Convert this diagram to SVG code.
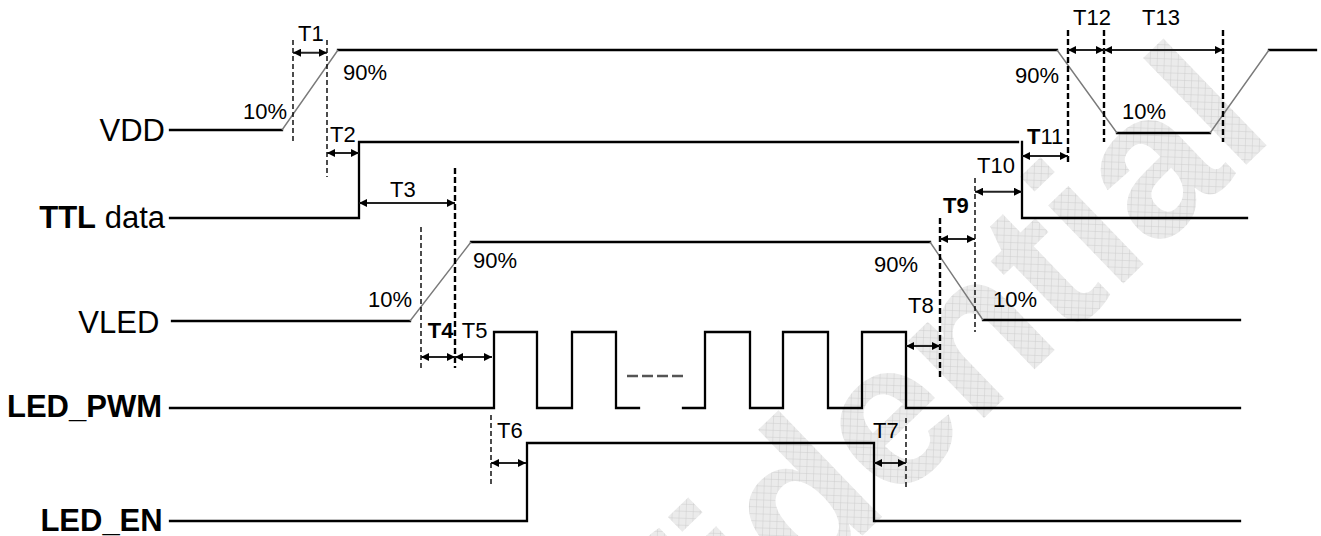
<svg xmlns="http://www.w3.org/2000/svg" width="1321" height="536" viewBox="0 0 1321 536">
<defs>
<pattern id="hatch" width="7" height="7" patternUnits="userSpaceOnUse" patternTransform="rotate(-44)">
<rect width="7" height="7" fill="#ebebeb"/>
<path d="M0,0 H7 M0,0 V7" stroke="#cdcdcd" stroke-width="1"/>
</pattern>
<marker id="ah" viewBox="0 0 10 10" refX="10" refY="5" markerWidth="9" markerHeight="8" markerUnits="userSpaceOnUse" orient="auto-start-reverse">
<path d="M0,0 L10,5 L0,10 z" fill="#000"/>
</marker>
<style>
.sig{fill:none;stroke:#000;stroke-width:2.3;stroke-linecap:square}
.ramp{fill:none;stroke:#7a7a7a;stroke-width:1.4}
.dth{fill:none;stroke:#000;stroke-width:1.4;stroke-dasharray:5 3}
.dtk{fill:none;stroke:#000;stroke-width:2.4;stroke-dasharray:6 3}
.arr{fill:none;stroke:#222;stroke-width:2;marker-start:url(#ah);marker-end:url(#ah)}
.lbl{font-family:"Liberation Sans",Arial,sans-serif;font-size:31px;fill:#000}
.t{font-family:"Liberation Sans",Arial,sans-serif;font-size:22px;fill:#000}
.b{font-weight:bold}
</style>
</defs>
<rect width="1321" height="536" fill="#fff"/>
<text transform="translate(425,958) rotate(-44)" font-family="Liberation Sans,Arial,sans-serif" font-weight="bold" font-size="205" fill="url(#hatch)">Confidential</text>

<g id="vdd">
<text class="lbl" x="165" y="140.5" text-anchor="end">VDD</text>
<path class="sig" d="M170,130 H282 M338,50 H1057 M1117,133 H1210 M1269,50 H1316"/>
<path class="ramp" d="M282,130 L338,50 M1057,50 L1117,133 M1210,133 L1269,50"/>
<text class="t" x="243" y="119">10%</text>
<text class="t" x="343" y="80">90%</text>
<text class="t" x="1015" y="83">90%</text>
<text class="t" x="1122" y="119">10%</text>
</g>

<g id="ttl">
<text class="lbl" x="165" y="228.3" text-anchor="end"><tspan class="b">TTL</tspan> data</text>
<path class="sig" d="M170,218 H359 V142 H1018 M1022,142 V218 H1247"/>
</g>

<g id="vled">
<text class="lbl" x="159.3" y="333" text-anchor="end">VLED</text>
<path class="sig" d="M172,321 H410 M471,242 H930 M983,320 H1240"/>
<path class="ramp" d="M410,321 L471,242 M930,242 L983,320"/>
<text class="t" x="368" y="307">10%</text>
<text class="t" x="473" y="268">90%</text>
<text class="t" x="874" y="271.7">90%</text>
<text class="t" x="993" y="306.7">10%</text>
</g>

<g id="led_pwm">
<text class="lbl b" x="162" y="417" text-anchor="end">LED_PWM</text>
<path class="sig" d="M170,408 H494 V332 H537 V408 H572 V332 H616 V408 H639 M683,408 H705 V332 H750 V408 H783 V332 H828 V408 H862 V332 H906 V408 H1240"/>
<path d="M627,376 H684" stroke="#555" stroke-width="2.5" stroke-dasharray="11 4" fill="none"/>
</g>

<g id="led_en">
<text class="lbl b" x="162.7" y="530.7" text-anchor="end">LED_EN</text>
<path class="sig" d="M170,521 H527 V443 H874 V521 H1240"/>
</g>

<g id="connectors">
<path class="dth" d="M293,40 V142 M327,40 V177 M421,227 V368 M491,415 V485 M906,418 V488 M975,178 V332"/>
<path class="dtk" d="M455,168 V368 M940,218 V377 M1068,30 V164 M1104,30 V142 M1223,30 V142"/>
<line class="arr" x1="293" y1="52.7" x2="327" y2="52.7"/>
<line class="arr" x1="327" y1="153" x2="359" y2="153"/>
<line class="arr" x1="359" y1="203" x2="455" y2="203"/>
<line class="arr" x1="421" y1="357" x2="455" y2="357"/>
<line class="arr" x1="455" y1="357" x2="492" y2="357"/>
<line class="arr" x1="491" y1="463" x2="526" y2="463"/>
<line class="arr" x1="874" y1="463" x2="906" y2="463"/>
<line class="arr" x1="906" y1="346" x2="940" y2="346"/>
<line class="arr" x1="940" y1="239" x2="975" y2="239"/>
<line class="arr" x1="975" y1="191.7" x2="1022" y2="191.7"/>
<line class="arr" x1="1022" y1="156" x2="1068" y2="156"/>
<line class="arr" x1="1068" y1="50" x2="1104" y2="50"/>
<line class="arr" x1="1104" y1="50" x2="1223" y2="50"/>
<text class="t" x="298" y="41">T1</text>
<text class="t" x="330" y="142">T2</text>
<text class="t" x="390" y="197">T3</text>
<text class="t b" x="427.7" y="338">T4</text>
<text class="t" x="461.7" y="338">T5</text>
<text class="t" x="497" y="438">T6</text>
<text class="t" x="873" y="438">T7</text>
<text class="t" x="908" y="313">T8</text>
<text class="t b" x="943" y="213">T9</text>
<text class="t" x="977" y="173">T10</text>
<text class="t" x="1027" y="144"><tspan class="b">T</tspan>11</text>
<text class="t" x="1073" y="25">T12</text>
<text class="t" x="1142" y="25">T13</text>
</g>
</svg>
